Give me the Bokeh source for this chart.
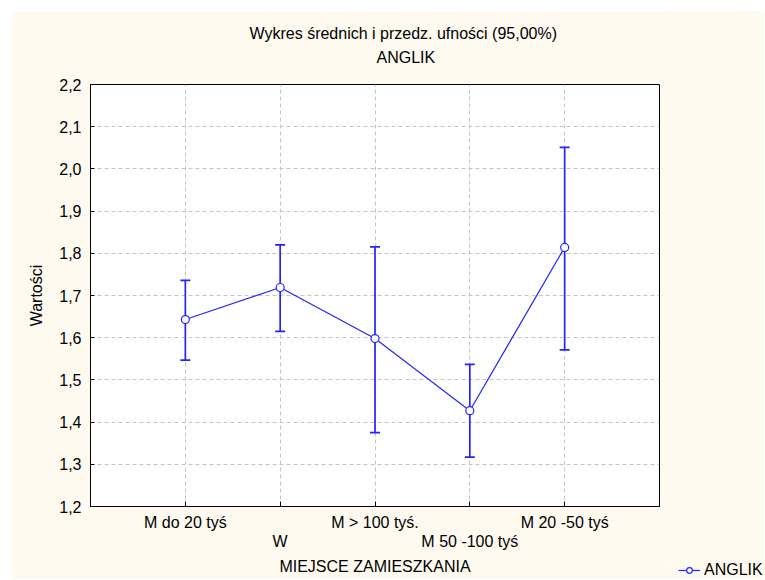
from bokeh.plotting import figure
from bokeh.layouts import column, row
from bokeh.models import (ColumnDataSource, Range1d, Whisker, TeeHead, LinearAxis, Spacer,
                          FixedTicker, CustomJSTickFormatter, Title, Legend, LegendItem)
from bokeh.embed import file_html
from bokeh.resources import INLINE

# ---- data ----
categories = ["M do 20 tyś", "W", "M > 100 tyś.", "M 50 -100 tyś", "M 20 -50 tyś"]
means = [1.643, 1.719, 1.598, 1.427, 1.814]
lower = [1.547, 1.615, 1.375, 1.317, 1.571]
upper = [1.736, 1.820, 1.815, 1.537, 2.051]
y_ticks = [1.2, 1.3, 1.4, 1.5, 1.6, 1.7, 1.8, 1.9, 2.0, 2.1, 2.2]
title_line1 = "Wykres średnich i przedz. ufności (95,00%)"
title_line2 = "ANGLIK"
x_label = "MIEJSCE ZAMIESZKANIA"
y_label = "Wartości"
series_name = "ANGLIK"

FONT = "Liberation Sans"
FS = "16px"
BG = "#FEFAF0"
BLUE = "#2424FF"
GRID = "#C4C4C4"

x_pos = list(range(1, len(categories) + 1))
src = ColumnDataSource(dict(x=x_pos, mean=means, lower=lower, upper=upper))

p = figure(x_range=Range1d(0, len(categories) + 1), y_range=Range1d(y_ticks[0], y_ticks[-1]),
           frame_width=569, frame_height=422,
           min_border_left=79, min_border_right=6, min_border_top=73, min_border_bottom=73,
           output_backend="svg", toolbar_location=None,
           background_fill_color="white", border_fill_color=BG,
           outline_line_color="black", outline_line_width=1)

for g in (p.xgrid, p.ygrid):
    g.grid_line_color = GRID
    g.grid_line_dash = "4 3"
    g.grid_line_width = 1

# y axis
ya = p.yaxis[0]
ya.ticker = FixedTicker(ticks=y_ticks)
ya.formatter = CustomJSTickFormatter(code="return tick.toFixed(1).replace('.', ',')")
ya.major_tick_in = 4
ya.major_tick_out = 0
ya.minor_tick_line_color = None
ya.axis_line_color = "black"
ya.major_label_standoff = 9
ya.major_label_text_font = FONT
ya.major_label_text_font_size = FS
ya.major_label_text_color = "black"
ya.axis_label = y_label
ya.axis_label_text_font = FONT
ya.axis_label_text_font_size = FS
ya.axis_label_text_font_style = "normal"
ya.axis_label_text_color = "black"
ya.axis_label_standoff = 11

# x axis, first row of labels (odd positions)
xa = p.xaxis[0]
xa.ticker = FixedTicker(ticks=x_pos)
xa.major_label_overrides = {x: (c if i % 2 == 0 else "") for i, (x, c) in enumerate(zip(x_pos, categories))}
xa.major_tick_in = 5
xa.major_tick_out = 0
xa.minor_tick_line_color = None
xa.axis_line_color = "black"
xa.major_label_standoff = 7
xa.major_label_text_font = FONT
xa.major_label_text_font_size = FS
xa.major_label_text_color = "black"

# x axis, second row of labels (even positions) + axis title
xb = LinearAxis(ticker=FixedTicker(ticks=x_pos[1::2]))
xb.major_label_overrides = {x: c for x, c in zip(x_pos[1::2], categories[1::2])}
xb.axis_line_color = None
xb.major_tick_line_color = None
xb.minor_tick_line_color = None
xb.major_tick_in = 0
xb.major_tick_out = 0
xb.major_label_standoff = -1
xb.major_label_text_font = FONT
xb.major_label_text_font_size = FS
xb.major_label_text_color = "black"
xb.axis_label = x_label
xb.axis_label_text_font = FONT
xb.axis_label_text_font_size = FS
xb.axis_label_text_font_style = "normal"
xb.axis_label_text_color = "black"
xb.axis_label_standoff = 5
p.add_layout(xb, "below")

# titles (stacked outward from the frame); first one is a blank spacer
p.add_layout(Title(text=" ", text_font_size="10px", standoff=3), "above")
p.add_layout(Title(text=title_line2, align="left", offset=286, standoff=5,
                   text_font=FONT, text_font_size=FS, text_font_style="normal",
                   text_color="black"), "above")
p.add_layout(Title(text=title_line1, align="left", offset=159, standoff=5,
                   text_font=FONT, text_font_size=FS, text_font_style="normal",
                   text_color="black"), "above")

# error bars, line and markers
w = Whisker(source=src, base="x", upper="upper", lower="lower", dimension="height",
            line_color=BLUE, line_width=1.7,
            upper_head=TeeHead(size=10, line_color=BLUE, line_width=1.7),
            lower_head=TeeHead(size=10, line_color=BLUE, line_width=1.7))
p.add_layout(w)
p.line("x", "mean", source=src, line_color=BLUE, line_width=1.2)
p.scatter("x", "mean", source=src, size=8, fill_color="white", line_color=BLUE, line_width=1.2)

# small legend strip at the bottom right; its ranges exclude the data, so only the legend shows
lf = figure(width=99, height=18, min_border=0, toolbar_location=None, output_backend="svg",
            x_axis_location=None, y_axis_location=None,
            x_range=Range1d(-2, -1), y_range=Range1d(-2, -1),
            background_fill_color=BG, border_fill_color=BG, outline_line_color=None)
lf.grid.visible = False
proxy_line = lf.line("x", "mean", source=src, line_color=BLUE, line_width=1.2)
proxy_pts = lf.scatter("x", "mean", source=src, size=8, fill_color="white",
                       line_color=BLUE, line_width=1.2)
leg = Legend(items=[LegendItem(label=series_name, renderers=[proxy_line, proxy_pts])],
             location=(13, 0), background_fill_alpha=0, border_line_color=None,
             padding=0, margin=0, spacing=0, glyph_width=22, glyph_height=14, label_standoff=4,
             label_text_font=FONT, label_text_font_size=FS, label_text_color="black")
lf.add_layout(leg)

right_col = column(Spacer(width=99, height=550, styles={"background-color": BG}), lf)
layout = column(Spacer(width=765, height=11),
                row(Spacer(width=11, height=568), p, right_col))

open("out.html", "w").write(file_html(layout, INLINE))
